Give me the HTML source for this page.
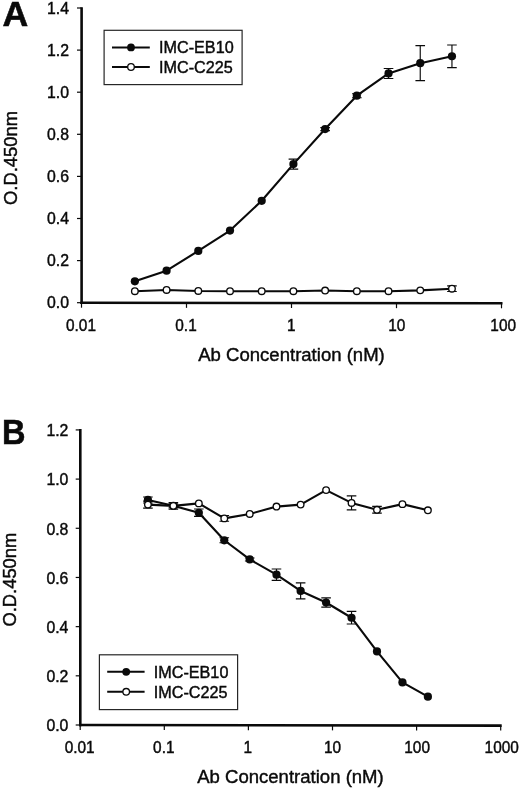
<!DOCTYPE html>
<html><head><meta charset="utf-8"><title>Figure</title>
<style>
html,body{margin:0;padding:0;background:#fff;}
svg{display:block;filter:grayscale(1);font-family:'Liberation Sans', Arial, sans-serif;}
</style></head><body>
<svg width="520" height="789" viewBox="0 0 520 789">
<rect width="520" height="789" fill="#fff"/>
<line x1="81.6" y1="7.20" x2="81.6" y2="304.00" stroke="#0a0a0a" stroke-width="2.6"/>
<line x1="80.30" y1="302.7" x2="502.50" y2="303.3" stroke="#0a0a0a" stroke-width="2.6"/>
<line x1="77.0" y1="302.70" x2="81.6" y2="302.70" stroke="#0a0a0a" stroke-width="1.2"/>
<text transform="translate(69.00,308.45) scale(1.0,1.0)" text-anchor="end" font-size="15.8" fill="#0a0a0a" stroke="#0a0a0a" stroke-width="0.42">0.0</text>
<line x1="77.0" y1="260.60" x2="81.6" y2="260.60" stroke="#0a0a0a" stroke-width="1.2"/>
<text transform="translate(69.00,266.35) scale(1.0,1.0)" text-anchor="end" font-size="15.8" fill="#0a0a0a" stroke="#0a0a0a" stroke-width="0.42">0.2</text>
<line x1="77.0" y1="218.50" x2="81.6" y2="218.50" stroke="#0a0a0a" stroke-width="1.2"/>
<text transform="translate(69.00,224.25) scale(1.0,1.0)" text-anchor="end" font-size="15.8" fill="#0a0a0a" stroke="#0a0a0a" stroke-width="0.42">0.4</text>
<line x1="77.0" y1="176.40" x2="81.6" y2="176.40" stroke="#0a0a0a" stroke-width="1.2"/>
<text transform="translate(69.00,182.15) scale(1.0,1.0)" text-anchor="end" font-size="15.8" fill="#0a0a0a" stroke="#0a0a0a" stroke-width="0.42">0.6</text>
<line x1="77.0" y1="134.30" x2="81.6" y2="134.30" stroke="#0a0a0a" stroke-width="1.2"/>
<text transform="translate(69.00,140.05) scale(1.0,1.0)" text-anchor="end" font-size="15.8" fill="#0a0a0a" stroke="#0a0a0a" stroke-width="0.42">0.8</text>
<line x1="77.0" y1="92.20" x2="81.6" y2="92.20" stroke="#0a0a0a" stroke-width="1.2"/>
<text transform="translate(69.00,97.95) scale(1.0,1.0)" text-anchor="end" font-size="15.8" fill="#0a0a0a" stroke="#0a0a0a" stroke-width="0.42">1.0</text>
<line x1="77.0" y1="50.10" x2="81.6" y2="50.10" stroke="#0a0a0a" stroke-width="1.2"/>
<text transform="translate(69.00,55.85) scale(1.0,1.0)" text-anchor="end" font-size="15.8" fill="#0a0a0a" stroke="#0a0a0a" stroke-width="0.42">1.2</text>
<line x1="77.0" y1="8.00" x2="81.6" y2="8.00" stroke="#0a0a0a" stroke-width="1.2"/>
<text transform="translate(69.00,13.75) scale(1.0,1.0)" text-anchor="end" font-size="15.8" fill="#0a0a0a" stroke="#0a0a0a" stroke-width="0.42">1.4</text>
<line x1="81.50" y1="302.70" x2="81.50" y2="307.70" stroke="#0a0a0a" stroke-width="1.2"/>
<text transform="translate(81.00,330.80) scale(1.0,1.03)" text-anchor="middle" font-size="15.4" fill="#0a0a0a" stroke="#0a0a0a" stroke-width="0.42">0.01</text>
<line x1="186.50" y1="302.85" x2="186.50" y2="307.85" stroke="#0a0a0a" stroke-width="1.2"/>
<text transform="translate(186.00,330.80) scale(1.0,1.03)" text-anchor="middle" font-size="15.4" fill="#0a0a0a" stroke="#0a0a0a" stroke-width="0.42">0.1</text>
<line x1="291.50" y1="303.00" x2="291.50" y2="308.00" stroke="#0a0a0a" stroke-width="1.2"/>
<text transform="translate(291.30,330.80) scale(1.0,1.03)" text-anchor="middle" font-size="15.4" fill="#0a0a0a" stroke="#0a0a0a" stroke-width="0.42">1</text>
<line x1="396.50" y1="303.15" x2="396.50" y2="308.15" stroke="#0a0a0a" stroke-width="1.2"/>
<text transform="translate(396.80,330.80) scale(1.0,1.03)" text-anchor="middle" font-size="15.4" fill="#0a0a0a" stroke="#0a0a0a" stroke-width="0.42">10</text>
<line x1="501.50" y1="303.30" x2="501.50" y2="308.30" stroke="#0a0a0a" stroke-width="1.2"/>
<text transform="translate(503.20,330.80) scale(1.0,1.03)" text-anchor="middle" font-size="15.4" fill="#0a0a0a" stroke="#0a0a0a" stroke-width="0.42">100</text>
<text transform="translate(291.50,361.20) scale(1.0,1.03)" text-anchor="middle" font-size="18.55" fill="#0a0a0a" stroke="#0a0a0a" stroke-width="0.42">Ab Concentration (nM)</text>
<text transform="translate(16.90,158.00) rotate(-90) scale(1.0,1.05)" text-anchor="middle" font-size="18.36" fill="#0a0a0a" stroke="#0a0a0a" stroke-width="0.42">O.D.450nm</text>
<text transform="translate(2.40,26.10) scale(1.15,1.117)" text-anchor="start" font-size="31" font-weight="bold" fill="#0a0a0a" stroke="#0a0a0a" stroke-width="0.5">A</text>
<polyline fill="none" stroke="#0a0a0a" stroke-width="2.1" stroke-linejoin="round" points="134.87,281.34 166.58,270.65 198.29,250.93 230.00,230.58 261.70,200.80 293.41,164.09 325.12,129.06 356.83,95.71 388.53,73.47 420.24,63.19 451.95,56.27"/>
<path d="M293.41 159.09V169.09M288.61 159.09H298.21M288.61 169.09H298.21" stroke="#0a0a0a" stroke-width="1.15" fill="none"/>
<path d="M325.12 127.56V130.56M320.32 127.56H329.92M320.32 130.56H329.92" stroke="#0a0a0a" stroke-width="1.15" fill="none"/>
<path d="M356.83 93.71V97.71M352.03 93.71H361.63M352.03 97.71H361.63" stroke="#0a0a0a" stroke-width="1.15" fill="none"/>
<path d="M388.53 68.47V78.47M383.73 68.47H393.33M383.73 78.47H393.33" stroke="#0a0a0a" stroke-width="1.15" fill="none"/>
<path d="M420.24 45.69V80.69M415.44 45.69H425.04M415.44 80.69H425.04" stroke="#0a0a0a" stroke-width="1.15" fill="none"/>
<path d="M451.95 44.97V67.57M447.15 44.97H456.75M447.15 67.57H456.75" stroke="#0a0a0a" stroke-width="1.15" fill="none"/>
<circle cx="134.87" cy="281.34" r="4.1" fill="#0a0a0a"/>
<circle cx="166.58" cy="270.65" r="4.1" fill="#0a0a0a"/>
<circle cx="198.29" cy="250.93" r="4.1" fill="#0a0a0a"/>
<circle cx="230.00" cy="230.58" r="4.1" fill="#0a0a0a"/>
<circle cx="261.70" cy="200.80" r="4.1" fill="#0a0a0a"/>
<circle cx="293.41" cy="164.09" r="4.1" fill="#0a0a0a"/>
<circle cx="325.12" cy="129.06" r="4.1" fill="#0a0a0a"/>
<circle cx="356.83" cy="95.71" r="4.1" fill="#0a0a0a"/>
<circle cx="388.53" cy="73.47" r="4.1" fill="#0a0a0a"/>
<circle cx="420.24" cy="63.19" r="4.1" fill="#0a0a0a"/>
<circle cx="451.95" cy="56.27" r="4.1" fill="#0a0a0a"/>
<polyline fill="none" stroke="#0a0a0a" stroke-width="2.1" stroke-linejoin="round" points="134.87,291.20 166.58,289.94 198.29,290.99 230.00,291.20 261.70,291.20 293.41,291.20 325.12,290.57 356.83,291.20 388.53,291.20 420.24,290.36 451.95,288.69"/>
<path d="M451.95 285.89V291.49M447.15 285.89H456.75M447.15 291.49H456.75" stroke="#0a0a0a" stroke-width="1.15" fill="none"/>
<circle cx="134.87" cy="291.20" r="3.3" fill="#fff" stroke="#0a0a0a" stroke-width="1.35"/>
<circle cx="166.58" cy="289.94" r="3.3" fill="#fff" stroke="#0a0a0a" stroke-width="1.35"/>
<circle cx="198.29" cy="290.99" r="3.3" fill="#fff" stroke="#0a0a0a" stroke-width="1.35"/>
<circle cx="230.00" cy="291.20" r="3.3" fill="#fff" stroke="#0a0a0a" stroke-width="1.35"/>
<circle cx="261.70" cy="291.20" r="3.3" fill="#fff" stroke="#0a0a0a" stroke-width="1.35"/>
<circle cx="293.41" cy="291.20" r="3.3" fill="#fff" stroke="#0a0a0a" stroke-width="1.35"/>
<circle cx="325.12" cy="290.57" r="3.3" fill="#fff" stroke="#0a0a0a" stroke-width="1.35"/>
<circle cx="356.83" cy="291.20" r="3.3" fill="#fff" stroke="#0a0a0a" stroke-width="1.35"/>
<circle cx="388.53" cy="291.20" r="3.3" fill="#fff" stroke="#0a0a0a" stroke-width="1.35"/>
<circle cx="420.24" cy="290.36" r="3.3" fill="#fff" stroke="#0a0a0a" stroke-width="1.35"/>
<circle cx="451.95" cy="288.69" r="3.3" fill="#fff" stroke="#0a0a0a" stroke-width="1.35"/>
<rect x="104.1" y="30.3" width="138.0" height="54.3" fill="#fff" stroke="#262626" stroke-width="1.2"/>
<line x1="112" y1="47.4" x2="149.8" y2="47.4" stroke="#0a0a0a" stroke-width="2"/>
<circle cx="131" cy="47.4" r="3.9" fill="#0a0a0a"/>
<text transform="translate(159.00,53.40) scale(1.0,1.03)" text-anchor="start" font-size="16.2" fill="#0a0a0a" stroke="#0a0a0a" stroke-width="0.42">IMC-EB10</text>
<line x1="112" y1="67.0" x2="149.8" y2="67.0" stroke="#0a0a0a" stroke-width="2"/>
<circle cx="131" cy="67.0" r="3.3" fill="#fff" stroke="#0a0a0a" stroke-width="1.3"/>
<text transform="translate(159.00,73.10) scale(1.0,1.03)" text-anchor="start" font-size="16.2" fill="#0a0a0a" stroke="#0a0a0a" stroke-width="0.42">IMC-C225</text>
<line x1="80.3" y1="429.12" x2="80.3" y2="726.30" stroke="#0a0a0a" stroke-width="2.6"/>
<line x1="79.00" y1="725.0" x2="501.70" y2="725.6" stroke="#0a0a0a" stroke-width="2.6"/>
<line x1="75.7" y1="725.00" x2="80.3" y2="725.00" stroke="#0a0a0a" stroke-width="1.2"/>
<text transform="translate(68.35,731.30) scale(1.0,1.0)" text-anchor="end" font-size="15.8" fill="#0a0a0a" stroke="#0a0a0a" stroke-width="0.42">0.0</text>
<line x1="75.7" y1="675.82" x2="80.3" y2="675.82" stroke="#0a0a0a" stroke-width="1.2"/>
<text transform="translate(68.35,682.12) scale(1.0,1.0)" text-anchor="end" font-size="15.8" fill="#0a0a0a" stroke="#0a0a0a" stroke-width="0.42">0.2</text>
<line x1="75.7" y1="626.64" x2="80.3" y2="626.64" stroke="#0a0a0a" stroke-width="1.2"/>
<text transform="translate(68.35,632.94) scale(1.0,1.0)" text-anchor="end" font-size="15.8" fill="#0a0a0a" stroke="#0a0a0a" stroke-width="0.42">0.4</text>
<line x1="75.7" y1="577.46" x2="80.3" y2="577.46" stroke="#0a0a0a" stroke-width="1.2"/>
<text transform="translate(68.35,583.76) scale(1.0,1.0)" text-anchor="end" font-size="15.8" fill="#0a0a0a" stroke="#0a0a0a" stroke-width="0.42">0.6</text>
<line x1="75.7" y1="528.28" x2="80.3" y2="528.28" stroke="#0a0a0a" stroke-width="1.2"/>
<text transform="translate(68.35,534.58) scale(1.0,1.0)" text-anchor="end" font-size="15.8" fill="#0a0a0a" stroke="#0a0a0a" stroke-width="0.42">0.8</text>
<line x1="75.7" y1="479.10" x2="80.3" y2="479.10" stroke="#0a0a0a" stroke-width="1.2"/>
<text transform="translate(68.35,485.40) scale(1.0,1.0)" text-anchor="end" font-size="15.8" fill="#0a0a0a" stroke="#0a0a0a" stroke-width="0.42">1.0</text>
<line x1="75.7" y1="429.92" x2="80.3" y2="429.92" stroke="#0a0a0a" stroke-width="1.2"/>
<text transform="translate(68.35,436.22) scale(1.0,1.0)" text-anchor="end" font-size="15.8" fill="#0a0a0a" stroke="#0a0a0a" stroke-width="0.42">1.2</text>
<line x1="80.20" y1="725.00" x2="80.20" y2="730.00" stroke="#0a0a0a" stroke-width="1.2"/>
<text transform="translate(79.70,752.70) scale(1.0,1.03)" text-anchor="middle" font-size="15.4" fill="#0a0a0a" stroke="#0a0a0a" stroke-width="0.42">0.01</text>
<line x1="164.30" y1="725.12" x2="164.30" y2="730.12" stroke="#0a0a0a" stroke-width="1.2"/>
<text transform="translate(163.80,752.70) scale(1.0,1.03)" text-anchor="middle" font-size="15.4" fill="#0a0a0a" stroke="#0a0a0a" stroke-width="0.42">0.1</text>
<line x1="248.40" y1="725.24" x2="248.40" y2="730.24" stroke="#0a0a0a" stroke-width="1.2"/>
<text transform="translate(247.90,752.70) scale(1.0,1.03)" text-anchor="middle" font-size="15.4" fill="#0a0a0a" stroke="#0a0a0a" stroke-width="0.42">1</text>
<line x1="332.50" y1="725.36" x2="332.50" y2="730.36" stroke="#0a0a0a" stroke-width="1.2"/>
<text transform="translate(332.50,752.70) scale(1.0,1.03)" text-anchor="middle" font-size="15.4" fill="#0a0a0a" stroke="#0a0a0a" stroke-width="0.42">10</text>
<line x1="416.60" y1="725.48" x2="416.60" y2="730.48" stroke="#0a0a0a" stroke-width="1.2"/>
<text transform="translate(417.10,752.70) scale(1.0,1.03)" text-anchor="middle" font-size="15.4" fill="#0a0a0a" stroke="#0a0a0a" stroke-width="0.42">100</text>
<line x1="500.70" y1="725.60" x2="500.70" y2="730.60" stroke="#0a0a0a" stroke-width="1.2"/>
<text transform="translate(501.70,752.70) scale(1.0,1.03)" text-anchor="middle" font-size="15.4" fill="#0a0a0a" stroke="#0a0a0a" stroke-width="0.42">1000</text>
<text transform="translate(290.45,782.80) scale(1.0,1.03)" text-anchor="middle" font-size="18.55" fill="#0a0a0a" stroke="#0a0a0a" stroke-width="0.42">Ab Concentration (nM)</text>
<text transform="translate(16.30,579.60) rotate(-90) scale(1.0,1.05)" text-anchor="middle" font-size="18.36" fill="#0a0a0a" stroke="#0a0a0a" stroke-width="0.42">O.D.450nm</text>
<text transform="translate(2.00,443.60) scale(1.05,1.107)" text-anchor="start" font-size="31" font-weight="bold" fill="#0a0a0a" stroke="#0a0a0a" stroke-width="0.5">B</text>
<polyline fill="none" stroke="#0a0a0a" stroke-width="2.1" stroke-linejoin="round" points="147.92,499.95 173.37,505.85 198.83,512.73 224.28,540.28 249.73,559.46 276.48,574.70 300.63,590.93 326.09,602.49 351.54,617.73 376.99,651.42 402.44,682.41 427.89,696.67"/>
<path d="M147.92 496.95V502.95M143.12 496.95H152.72M143.12 502.95H152.72" stroke="#0a0a0a" stroke-width="1.15" fill="none"/>
<path d="M173.37 503.85V507.85M168.57 503.85H178.17M168.57 507.85H178.17" stroke="#0a0a0a" stroke-width="1.15" fill="none"/>
<path d="M198.83 509.03V516.43M194.03 509.03H203.63M194.03 516.43H203.63" stroke="#0a0a0a" stroke-width="1.15" fill="none"/>
<path d="M224.28 537.78V542.78M219.48 537.78H229.08M219.48 542.78H229.08" stroke="#0a0a0a" stroke-width="1.15" fill="none"/>
<path d="M249.73 557.96V560.96M244.93 557.96H254.53M244.93 560.96H254.53" stroke="#0a0a0a" stroke-width="1.15" fill="none"/>
<path d="M276.48 569.00V580.40M271.68 569.00H281.28M271.68 580.40H281.28" stroke="#0a0a0a" stroke-width="1.15" fill="none"/>
<path d="M300.63 582.93V598.93M295.83 582.93H305.43M295.83 598.93H305.43" stroke="#0a0a0a" stroke-width="1.15" fill="none"/>
<path d="M326.09 597.89V607.09M321.29 597.89H330.89M321.29 607.09H330.89" stroke="#0a0a0a" stroke-width="1.15" fill="none"/>
<path d="M351.54 611.43V624.03M346.74 611.43H356.34M346.74 624.03H356.34" stroke="#0a0a0a" stroke-width="1.15" fill="none"/>
<circle cx="147.92" cy="499.95" r="4.1" fill="#0a0a0a"/>
<circle cx="173.37" cy="505.85" r="4.1" fill="#0a0a0a"/>
<circle cx="198.83" cy="512.73" r="4.1" fill="#0a0a0a"/>
<circle cx="224.28" cy="540.28" r="4.1" fill="#0a0a0a"/>
<circle cx="249.73" cy="559.46" r="4.1" fill="#0a0a0a"/>
<circle cx="276.48" cy="574.70" r="4.1" fill="#0a0a0a"/>
<circle cx="300.63" cy="590.93" r="4.1" fill="#0a0a0a"/>
<circle cx="326.09" cy="602.49" r="4.1" fill="#0a0a0a"/>
<circle cx="351.54" cy="617.73" r="4.1" fill="#0a0a0a"/>
<circle cx="376.99" cy="651.42" r="4.1" fill="#0a0a0a"/>
<circle cx="402.44" cy="682.41" r="4.1" fill="#0a0a0a"/>
<circle cx="427.89" cy="696.67" r="4.1" fill="#0a0a0a"/>
<polyline fill="none" stroke="#0a0a0a" stroke-width="2.1" stroke-linejoin="round" points="147.92,504.62 173.37,505.85 198.83,503.39 224.28,518.39 249.73,513.96 276.48,506.59 300.63,504.62 326.09,490.11 351.54,502.90 376.99,509.78 402.44,504.13 427.89,510.28"/>
<path d="M147.92 501.12V508.12M143.12 501.12H152.72M143.12 508.12H152.72" stroke="#0a0a0a" stroke-width="1.15" fill="none"/>
<path d="M173.37 502.45V509.25M168.57 502.45H178.17M168.57 509.25H178.17" stroke="#0a0a0a" stroke-width="1.15" fill="none"/>
<path d="M224.28 515.49V521.29M219.48 515.49H229.08M219.48 521.29H229.08" stroke="#0a0a0a" stroke-width="1.15" fill="none"/>
<path d="M351.54 495.90V509.90M346.74 495.90H356.34M346.74 509.90H356.34" stroke="#0a0a0a" stroke-width="1.15" fill="none"/>
<path d="M376.99 506.38V513.18M372.19 506.38H381.79M372.19 513.18H381.79" stroke="#0a0a0a" stroke-width="1.15" fill="none"/>
<circle cx="147.92" cy="504.62" r="3.3" fill="#fff" stroke="#0a0a0a" stroke-width="1.35"/>
<circle cx="173.37" cy="505.85" r="3.3" fill="#fff" stroke="#0a0a0a" stroke-width="1.35"/>
<circle cx="198.83" cy="503.39" r="3.3" fill="#fff" stroke="#0a0a0a" stroke-width="1.35"/>
<circle cx="224.28" cy="518.39" r="3.3" fill="#fff" stroke="#0a0a0a" stroke-width="1.35"/>
<circle cx="249.73" cy="513.96" r="3.3" fill="#fff" stroke="#0a0a0a" stroke-width="1.35"/>
<circle cx="276.48" cy="506.59" r="3.3" fill="#fff" stroke="#0a0a0a" stroke-width="1.35"/>
<circle cx="300.63" cy="504.62" r="3.3" fill="#fff" stroke="#0a0a0a" stroke-width="1.35"/>
<circle cx="326.09" cy="490.11" r="3.3" fill="#fff" stroke="#0a0a0a" stroke-width="1.35"/>
<circle cx="351.54" cy="502.90" r="3.3" fill="#fff" stroke="#0a0a0a" stroke-width="1.35"/>
<circle cx="376.99" cy="509.78" r="3.3" fill="#fff" stroke="#0a0a0a" stroke-width="1.35"/>
<circle cx="402.44" cy="504.13" r="3.3" fill="#fff" stroke="#0a0a0a" stroke-width="1.35"/>
<circle cx="427.89" cy="510.28" r="3.3" fill="#fff" stroke="#0a0a0a" stroke-width="1.35"/>
<rect x="99.4" y="654.8" width="138.2" height="54.8" fill="#fff" stroke="#262626" stroke-width="1.2"/>
<line x1="107.2" y1="671.8" x2="144.6" y2="671.8" stroke="#0a0a0a" stroke-width="2"/>
<circle cx="126.2" cy="671.8" r="3.9" fill="#0a0a0a"/>
<text transform="translate(153.70,677.80) scale(1.0,1.03)" text-anchor="start" font-size="16.2" fill="#0a0a0a" stroke="#0a0a0a" stroke-width="0.42">IMC-EB10</text>
<line x1="107.2" y1="691.8" x2="144.6" y2="691.8" stroke="#0a0a0a" stroke-width="2"/>
<circle cx="126.2" cy="691.8" r="3.3" fill="#fff" stroke="#0a0a0a" stroke-width="1.3"/>
<text transform="translate(153.70,698.00) scale(1.0,1.03)" text-anchor="start" font-size="16.2" fill="#0a0a0a" stroke="#0a0a0a" stroke-width="0.42">IMC-C225</text>
</svg>
</body></html>
